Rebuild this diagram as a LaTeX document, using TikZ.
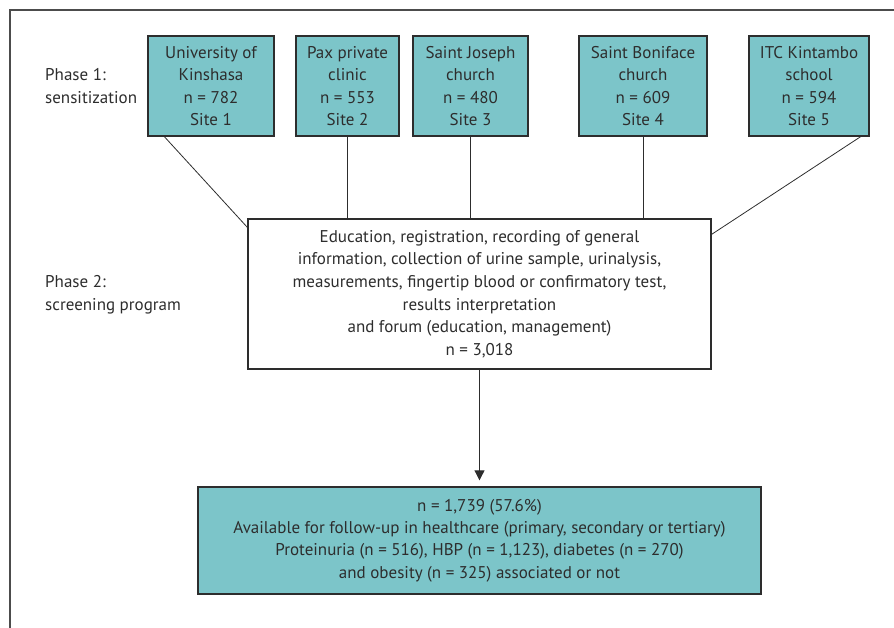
\documentclass[tikz,border=0pt]{standalone}
\usepackage{fontspec}
\setmainfont{PT Sans}
\usetikzlibrary{calc,arrows.meta}
\definecolor{teal1}{RGB}{124,197,201}
\definecolor{ink}{RGB}{45,45,45}
\tikzset{
  sitebox/.style={draw=ink, line width=1.3pt, fill=teal1, text=ink, align=center,
    minimum height=100pt, inner sep=0pt, font=\fontsize{17}{22.4}\selectfont},
  midbox/.style={draw=ink, line width=1.3pt, fill=white, text=ink, align=center,
    minimum width=463pt, minimum height=150pt, inner sep=0pt, font=\fontsize{17}{22.6}\selectfont},
  botbox/.style={draw=ink, line width=1.3pt, fill=teal1, text=ink, align=center,
    minimum width=563pt, minimum height=107pt, inner sep=0pt, font=\fontsize{17}{22.3}\selectfont},
  phase/.style={text=ink, align=left, anchor=west, inner sep=0pt, font=\fontsize{17}{23}\selectfont},
  conn/.style={draw=ink, line width=0.8pt},
}
\begin{document}
\begin{tikzpicture}[x=1pt,y=-1pt]
\useasboundingbox (0,0) rectangle (894,628);
\draw[draw=ink!85, line width=1.8pt] (10,628) -- (10,10) -- (894,10);
\node[phase] (p1) at (45,86) {Phase 1:\\sensitization};
\node[phase] (p2) at (45,295) {Phase 2:\\screening program};
\node[sitebox, minimum width=126pt] (b1) at (211,86) {University of\\Kinshasa\\n = 782\\Site 1};
\node[sitebox, minimum width=103pt] (b2) at (347.5,86) {Pax private\\clinic\\n = 553\\Site 2};
\node[sitebox, minimum width=115pt] (b3) at (470.5,86) {Saint Joseph\\church\\n = 480\\Site 3};
\node[sitebox, minimum width=128pt] (b4) at (643,86) {Saint Boniface\\church\\n = 609\\Site 4};
\node[sitebox, minimum width=120pt] (b5) at (809,86) {ITC Kintambo\\school\\n = 594\\Site 5};
\node[midbox] (mid) at (479.5,294) {Education, registration, recording of general\\information, collection of urine sample, urinalysis,\\measurements, fingertip blood or confirmatory test,\\results interpretation\\and forum (education, management)\\n = 3,018};
\node[botbox] (bot) at (479.5,540.5) {n = 1,739 (57.6\%)\\Available for follow-up in healthcare (primary, secondary or tertiary)\\Proteinuria (n = 516), HBP (n = 1,123), diabetes (n = 270)\\and obesity (n = 325) associated or not};
\draw[conn] ($(b1.south west)+(17,0)$) -- ($(mid.north west)+(0,9)$);
\draw[conn] (b2.south) -- (b2.south |- mid.north);
\draw[conn] (b3.south) -- (b3.south |- mid.north);
\draw[conn] (b4.south) -- (b4.south |- mid.north);
\draw[conn] ($(b5.south east)+(-9,0)$) -- ($(mid.north east)+(0,16)$);
\draw[conn, -{Triangle[length=10pt,width=10pt]}, shorten >=6pt] (mid.south) -- (bot.north);
\end{tikzpicture}
\end{document}
